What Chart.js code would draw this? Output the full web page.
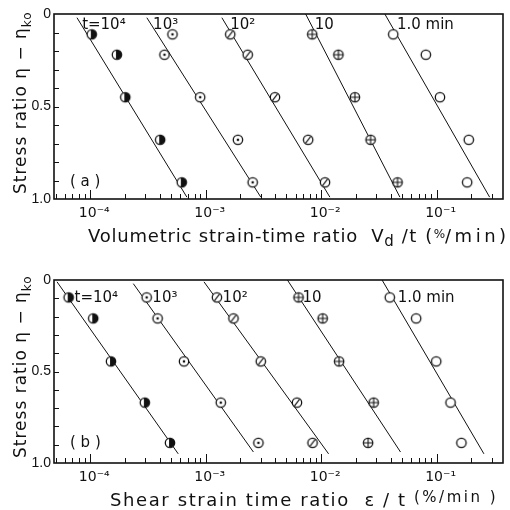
<!DOCTYPE html>
<html><head><meta charset="utf-8">
<script src="https://cdn.jsdelivr.net/npm/chart.js@4.4.0/dist/chart.umd.min.js"></script>
<style>
html,body{margin:0;padding:0;background:#fff;}
#wrap{position:relative;width:510px;height:510px;background:#fff;}
canvas{position:absolute;left:0;}
</style></head><body>
<div id="wrap">
<canvas id="ca" width="510" height="255" style="top:0px"></canvas>
<canvas id="cb" width="510" height="255" style="top:255px"></canvas>
</div>
<script>
// ---------- data ----------
const seriesLabels = ['t=10⁴', '10³', '10²', '10', '1.0 min'];
const markerKinds = ['half', 'dot', 'slash', 'plus', 'open'];

// (a) volumetric strain-time ratio (%/min) at each stress ratio row
const stressA = [0.11, 0.22, 0.45, 0.68, 0.91];
const volT10000 = [1.03e-4, 1.70e-4, 2.01e-4, 4.03e-4, 6.2e-4];
const volT1000  = [5.15e-4, 4.39e-4, 8.95e-4, 1.90e-3, 2.55e-3];
const volT100   = [1.63e-3, 2.31e-3, 3.98e-3, 7.72e-3, 1.08e-2];
const volT10    = [8.37e-3, 1.41e-2, 1.96e-2, 2.68e-2, 4.59e-2];
const volT1     = [4.21e-2, 8.07e-2, 0.107, 0.19, 0.184];
const volFitTopX = [7.67e-5, 3.09e-4, 1.38e-3, 7.34e-3, 3.56e-2];
const volFitTopY = [0.02, 0.02, 0.02, 0.0, 0.0];
const volFitBotX = [6.87e-4, 3.0e-3, 1.19e-2, 4.81e-2, 0.288];
const volFitBotY = [0.99, 0.99, 0.99, 0.99, 0.99];

// (b) shear strain time ratio (%/min)
const stressB = [0.095, 0.21, 0.445, 0.67, 0.89];
const shrT10000 = [6.5e-5, 1.06e-4, 1.51e-4, 2.97e-4, 4.9e-4];
const shrT1000  = [3.08e-4, 3.83e-4, 6.48e-4, 1.35e-3, 2.86e-3];
const shrT100   = [1.25e-3, 1.74e-3, 3.0e-3, 6.17e-3, 8.42e-3];
const shrT10    = [6.37e-3, 1.03e-2, 1.43e-2, 2.85e-2, 2.55e-2];
const shrT1     = [3.93e-2, 6.65e-2, 9.93e-2, 0.132, 0.164];
const shrFitTopX = [5.15e-5, 2.36e-4, 9.66e-4, 5.1e-3, 3.37e-2];
const shrFitTopY = [0.01, 0.02, 0.01, 0.0, 0.0];
const shrFitBotX = [5.78e-4, 2.59e-3, 1.16e-2, 4.87e-2, 0.257];
const shrFitBotY = [0.95, 0.94, 0.95, 0.94, 0.95];

// axes
const xRange = [4.85e-5, 0.376];
const xTickValues = [1e-4, 1e-3, 1e-2, 1e-1];
const xTickLabels = ['10⁻⁴', '10⁻³', '10⁻²', '10⁻¹'];
const yTickValues = [0, 0.5, 1.0];
const yTickLabels = ['0', '0.5', '1.0'];

// series label anchors (data coords)
const volLabelX = [8.5e-5, 3.5e-4, 1.63e-3, 8.8e-3, 4.53e-2];
const shrLabelX = [7.3e-5, 3.45e-4, 1.4e-3, 6.9e-3, 4.6e-2];

// ---------- rendering ----------
const FONT = '"DejaVu Sans", "Liberation Sans", sans-serif';
const TICKFONT = '"Liberation Sans", "DejaVu Sans", sans-serif';
const INK = '#111';

function makeMarker(kind) {
  const c = document.createElement('canvas');
  c.width = c.height = 14;
  const g = c.getContext('2d');
  const r = 4.7, cx = 7, cy = 7;
  g.lineWidth = 1.3; g.strokeStyle = INK; g.fillStyle = '#fff';
  g.beginPath(); g.arc(cx, cy, r, 0, 2 * Math.PI); g.fill();
  if (kind === 'half') {
    g.fillStyle = INK; g.beginPath();
    g.arc(cx, cy, r, -Math.PI / 2 - 0.2, Math.PI / 2 + 0.2); g.closePath(); g.fill();
  } else if (kind === 'dot') {
    g.fillStyle = INK; g.beginPath(); g.arc(cx, cy, 1.3, 0, 2 * Math.PI); g.fill();
  } else if (kind === 'slash') {
    g.lineWidth = 1.1; g.beginPath(); g.moveTo(cx - 2.6, cy + 3.4); g.lineTo(cx + 2.6, cy - 3.4); g.stroke();
  } else if (kind === 'plus') {
    g.lineWidth = 1.1; g.beginPath();
    g.moveTo(cx - r, cy); g.lineTo(cx + r, cy); g.moveTo(cx, cy - r); g.lineTo(cx, cy + r); g.stroke();
  }
  g.lineWidth = 1.3; g.strokeStyle = INK;
  g.beginPath(); g.arc(cx, cy, r, 0, 2 * Math.PI); g.stroke();
  return c;
}
const markers = markerKinds.map(makeMarker);

function drawRich(ctx, x, y, segs, base, spacing) {
  let cx = x;
  for (const s of segs) {
    const size = s.size || base;
    ctx.font = `${size}px ${FONT}`;
    ctx.letterSpacing = (s.ls !== undefined ? s.ls : spacing) + 'px';
    ctx.fillText(s.t, cx + (s.dx || 0), y + (s.dy || 0));
    cx += ctx.measureText(s.t).width + (s.dx || 0);
  }
  ctx.letterSpacing = '0px';
}

const deco = {
  id: 'deco',
  afterDraw(chart, args, o) {
    const ctx = chart.ctx, a = chart.chartArea, xs = chart.scales.x, ys = chart.scales.y;
    ctx.save();
    ctx.strokeStyle = INK; ctx.fillStyle = INK;
    ctx.lineWidth = 1;
    ctx.beginPath();
    for (let k = 1; k < 10; k++) {
      const py = Math.round(ys.getPixelForValue(k / 10)) + 0.5;
      ctx.moveTo(a.left, py); ctx.lineTo(a.left + 5, py);
    }
    for (let e = -5; e <= 0; e++) {
      for (let m = 1; m < 10; m++) {
        const v = m * Math.pow(10, e);
        if (v <= xs.min || v >= xs.max) continue;
        const px = Math.round(xs.getPixelForValue(v)) + 0.5;
        const L = m === 1 ? 9 : 5;
        ctx.moveTo(px, a.bottom); ctx.lineTo(px, a.bottom - L);
      }
    }
    ctx.stroke();
    ctx.lineWidth = 1.6;
    ctx.strokeRect(a.left, a.top, a.right - a.left, a.bottom - a.top);

    // series labels
    ctx.textBaseline = 'middle'; ctx.textAlign = 'left';
    ctx.font = `15px ${FONT}`;
    o.labelX.forEach((lx, i) => {
      ctx.fillText(seriesLabels[i], xs.getPixelForValue(lx), ys.getPixelForValue(o.labelY));
    });
    // panel tag
    ctx.font = `15px ${FONT}`;
    ctx.fillText(o.tag, a.left + 16, ys.getPixelForValue(o.tagY));

    // x title
    ctx.textBaseline = 'alphabetic';
    drawRich(ctx, o.xTitleX, o.xTitleY, o.xTitle, 18, o.xTitleLS);
    // y title (rotated)
    ctx.save();
    ctx.translate(o.yTitleX, o.yTitleY);
    ctx.rotate(-Math.PI / 2);
    drawRich(ctx, 0, 0, o.yTitle, 17, 1);
    ctx.restore();
    ctx.restore();
  }
};

function buildDatasets(rates, stress, topX, topY, botX, botY) {
  const ds = [];
  rates.forEach((r, i) => {
    ds.push({
      data: [{ x: topX[i], y: topY[i] }, { x: botX[i], y: botY[i] }],
      showLine: true, pointRadius: 0, borderColor: INK, borderWidth: 1, order: 2
    });
    ds.push({
      data: r.map((x, j) => ({ x: x, y: stress[j] })),
      showLine: false, pointStyle: markers[i], pointRadius: 5, order: 1
    });
  });
  return ds;
}

function makeChart(id, datasets, padTop, bottomH, decoOpts) {
  return new Chart(document.getElementById(id), {
    type: 'scatter',
    data: { datasets: datasets },
    plugins: [deco],
    options: {
      responsive: false, animation: false, devicePixelRatio: 1,
      layout: { padding: { top: padTop, right: 7, left: 0, bottom: 0 } },
      plugins: { legend: { display: false }, tooltip: { enabled: false }, deco: decoOpts },
      scales: {
        x: {
          type: 'logarithmic', min: xRange[0], max: xRange[1],
          afterBuildTicks: s => { s.ticks = xTickValues.map(v => ({ value: v, major: true })); },
          afterFit: s => { s.height = bottomH; },
          ticks: {
            callback: (v, i) => xTickLabels[i], autoSkip: false, maxRotation: 0,
            font: { family: FONT, size: 14 }, color: INK, padding: 6, labelOffset: 4
          },
          grid: { display: false, drawTicks: false }, border: { display: false }
        },
        y: {
          type: 'linear', min: 0, max: 1, reverse: true,
          afterBuildTicks: s => { s.ticks = yTickValues.map(v => ({ value: v })); },
          afterFit: s => { s.width = 54; },
          ticks: {
            callback: (v, i) => yTickLabels[i], autoSkip: false,
            font: { family: TICKFONT, size: 14 }, color: INK, padding: 3
          },
          grid: { display: false, drawTicks: false }, border: { display: false }
        }
      }
    }
  });
}

makeChart('ca',
  buildDatasets([volT10000, volT1000, volT100, volT10, volT1], stressA, volFitTopX, volFitTopY, volFitBotX, volFitBotY),
  14, 56,
  {
    labelX: volLabelX, labelY: 0.06, tag: '( a )', tagY: 0.91,
    xTitleX: 88, xTitleY: 242, xTitleLS: 0.8,
    xTitle: [{ t: 'Volumetric strain-time ratio  V' }, { t: 'd', size: 15, dy: 4 }, { t: ' /t (', ls: 1.5 }, { t: '%', size: 12, dy: -4, ls: 0 }, { t: '/min)', ls: 3.5 }],
    yTitleX: 25.5, yTitleY: 194,
    yTitle: [{ t: 'Stress ratio η − η' }, { t: 'ko', size: 12, dy: 5 }]
  });

makeChart('cb',
  buildDatasets([shrT10000, shrT1000, shrT100, shrT10, shrT1], stressB, shrFitTopX, shrFitTopY, shrFitBotX, shrFitBotY),
  25, 47,
  {
    labelX: shrLabelX, labelY: 0.098, tag: '( b )', tagY: 0.89,
    xTitleX: 110, xTitleY: 251, xTitleLS: 1.6,
    xTitle: [{ t: 'Shear strain time ratio  ε / t ' }, { t: '(%/min )', size: 15, dy: -4, ls: 2.5 }],
    yTitleX: 25.5, yTitleY: 203,
    yTitle: [{ t: 'Stress ratio η − η' }, { t: 'ko', size: 12, dy: 5 }]
  });
</script>
</body></html>
